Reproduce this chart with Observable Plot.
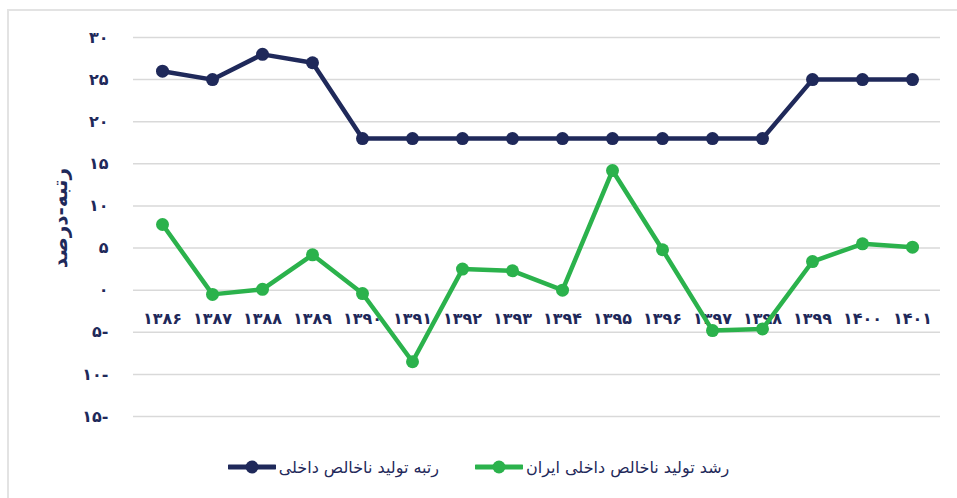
<!DOCTYPE html>
<html>
<head>
<meta charset="utf-8">
<script src="https://cdn.jsdelivr.net/npm/d3@7"></script>
<script src="https://cdn.jsdelivr.net/npm/@observablehq/plot@0.6"></script>
<style>
  html, body { margin: 0; padding: 0; background: #fff; }
  #wrap { position: relative; width: 957px; height: 498px; overflow: hidden; font-family: "DejaVu Sans", sans-serif; }
  #border { position: absolute; left: 7px; top: 9px; right: -10px; bottom: -10px; border-left: 2px solid #e3e3e3; border-top: 2px solid #e3e3e3; }
  #chart { position: absolute; left: 0; top: 0; }
  #legend { position: absolute; left: 0; top: 440px; width: 957px; height: 54px; display: flex; justify-content: center; align-items: center; direction: ltr; gap: 36px; }
  .item { display: flex; align-items: center; gap: 3px; }
  .item span { font-size: 16px; color: #1f295a; direction: rtl; unicode-bidi: isolate; }
</style>
</head>
<body>
<div id="wrap">
  <div id="border"></div>
  <div id="chart"></div>
  <div id="legend"></div>
</div>
<script>
const years = [1386, 1387, 1388, 1389, 1390, 1391, 1392, 1393, 1394, 1395, 1396, 1397, 1398, 1399, 1400, 1401];
const rank = [26, 25, 28, 27, 18, 18, 18, 18, 18, 18, 18, 18, 18, 25, 25, 25];
const growth = [7.8, -0.5, 0.1, 4.2, -0.4, -8.5, 2.5, 2.3, 0.0, 14.2, 4.8, -4.8, -4.6, 3.4, 5.5, 5.1];
const yTicks = [-15, -10, -5, 0, 5, 10, 15, 20, 25, 30];
const seriesNames = ["رتبه تولید ناخالص داخلی", "رشد تولید ناخالص داخلی ایران"];
const yLabel = "رتبه-درصد";

const navy = "#1f295a";
const green = "#2bb24c";
const faDigits = "۰۱۲۳۴۵۶۷۸۹";
const toFa = v => String(v).replace(/\d/g, d => faDigits[d]);
const fmtY = d => d < 0 ? toFa(-d) + "-" : toFa(d);

const rows = years.map((yr, i) => ({year: yr, rank: rank[i], growth: growth[i]}));

const chart = Plot.plot({
  width: 957,
  height: 440,
  marginTop: 37,
  marginBottom: 24,
  marginLeft: 133,
  marginRight: 17,
  style: {fontFamily: "DejaVu Sans, sans-serif", background: "transparent"},
  x: {type: "point", domain: years, padding: 0.5},
  y: {domain: [-15, 30]},
  marks: [
    Plot.gridY(yTicks, {stroke: "#d9d9d9", strokeOpacity: 1, strokeWidth: 1.5}),
    Plot.axisY(yTicks, {tickSize: 0, tickPadding: 25, tickFormat: fmtY, fontSize: 16, fontWeight: "bold", fill: navy, label: null}),
    Plot.axisX({tickSize: 0, tickPadding: -104, tickFormat: toFa, fontSize: 16, fontWeight: "bold", fill: navy, label: null}),
    Plot.text([yLabel], {frameAnchor: "left", textAnchor: "middle", rotate: -90, dx: -73, dy: -9, fontSize: 20, fontWeight: "bold", fill: navy}),
    Plot.line(rows, {x: "year", y: "rank", stroke: navy, strokeWidth: 4.5}),
    Plot.dot(rows, {x: "year", y: "rank", r: 6.5, fill: navy}),
    Plot.line(rows, {x: "year", y: "growth", stroke: green, strokeWidth: 4.5}),
    Plot.dot(rows, {x: "year", y: "growth", r: 6.5, fill: green})
  ]
});
document.getElementById("chart").appendChild(chart);

const legend = document.getElementById("legend");
[[seriesNames[0], navy], [seriesNames[1], green]].forEach(([name, color]) => {
  const item = document.createElement("div");
  item.className = "item";
  item.innerHTML = `<svg width="48" height="14"><line x1="1" x2="47" y1="7" y2="7" stroke="${color}" stroke-width="5" stroke-linecap="round"/><circle cx="24" cy="7" r="6.5" fill="${color}"/></svg><span>${name}</span>`;
  legend.appendChild(item);
});
</script>
</body>
</html>
